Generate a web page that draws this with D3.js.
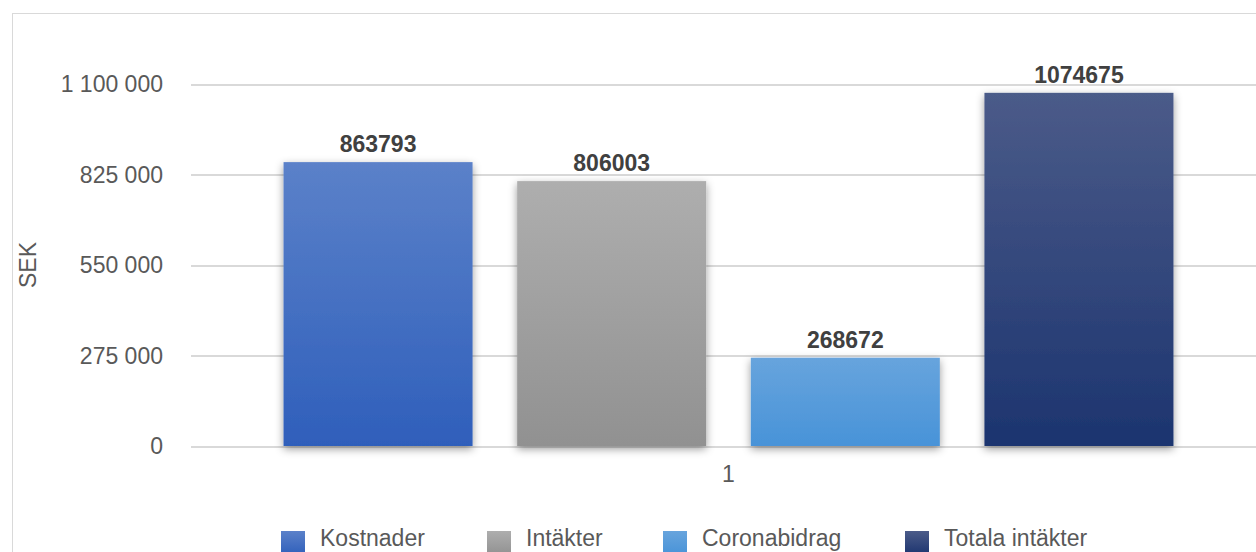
<!DOCTYPE html>
<html>
<head>
<meta charset="utf-8">
<script src="https://cdn.jsdelivr.net/npm/d3@7/dist/d3.min.js"></script>
<style>
  body { margin: 0; background: #fff; overflow: hidden; }
  svg { display: block; font-family: "Liberation Sans", Arial, sans-serif; }
</style>
</head>
<body>
<div id="chart"></div>
<script>
// chart data
var categories = ["1"];
var seriesNames = ["Kostnader", "Intäkter", "Coronabidrag", "Totala intäkter"];
var seriesValues = [863793, 806003, 268672, 1074675];
var yTicks = [0, 275000, 550000, 825000, 1100000];
var yTickLabels = ["0", "275 000", "550 000", "825 000", "1 100 000"];
var seriesColors = [
  ["#5b81c9", "#2f5fbb"],
  ["#aeaeae", "#919191"],
  ["#67a4dd", "#4893d8"],
  ["#4b5b89", "#1c346f"]
];

var W = 1256, H = 552;
var margin = { top: 84.5, right: -10, bottom: 106, left: 191 },
  width = W - margin.left - margin.right,
  height = H - margin.top - margin.bottom;

var svg = d3.select("#chart").append("svg")
  .attr("width", W)
  .attr("height", H);

var defs = svg.append("defs");
seriesColors.forEach(function (c, i) {
  var g = defs.append("linearGradient")
    .attr("id", "grad" + i)
    .attr("x1", 0).attr("y1", 0).attr("x2", 0).attr("y2", 1);
  g.append("stop").attr("offset", "0%").attr("stop-color", c[0]);
  g.append("stop").attr("offset", "100%").attr("stop-color", c[1]);
});
var f = defs.append("filter").attr("id", "shadow")
  .attr("x", "-20%").attr("y", "-10%").attr("width", "140%").attr("height", "130%");
f.append("feDropShadow")
  .attr("dx", 0).attr("dy", 3).attr("stdDeviation", 4)
  .attr("flood-color", "#000").attr("flood-opacity", 0.4);

// outer frame
svg.append("rect")
  .attr("x", 12.5).attr("y", 13.5)
  .attr("width", 1300).attr("height", 700)
  .attr("fill", "none").attr("stroke", "#d9d9d9");

var g = svg.append("g")
  .attr("transform", "translate(" + margin.left + "," + margin.top + ")");

var y = d3.scaleLinear().domain([0, 1100000]).range([height, 0]);
var x0 = d3.scaleBand().domain(categories).range([0, width]).paddingInner(0).paddingOuter(0.104);
var x1 = d3.scaleBand().domain(seriesNames).range([0, x0.bandwidth()]).paddingInner(0.191).paddingOuter(0);

// grid lines
g.append("g")
  .selectAll("line")
  .data(yTicks)
  .enter().append("line")
  .attr("x1", 0).attr("x2", width)
  .attr("y1", function (d) { return Math.round(y(d)) + 0.5; })
  .attr("y2", function (d) { return Math.round(y(d)) + 0.5; })
  .attr("stroke", "#d9d9d9").attr("stroke-width", 2);

// y axis labels
var yAxis = g.append("g")
  .call(d3.axisLeft(y).tickValues(yTicks).tickSize(0).tickPadding(28)
    .tickFormat(function (d, i) { return yTickLabels[i]; }));
yAxis.select(".domain").remove();
yAxis.selectAll("text")
  .attr("font-size", 23)
  .attr("fill", "#595959")
  .attr("font-family", "Liberation Sans, Arial, sans-serif");

// bars
var cat = g.selectAll(".cat")
  .data(categories)
  .enter().append("g")
  .attr("transform", function (d) { return "translate(" + x0(d) + ",0)"; });

cat.selectAll("rect")
  .data(seriesNames.map(function (n, i) { return { name: n, value: seriesValues[i], i: i }; }))
  .enter().append("rect")
  .attr("x", function (d) { return x1(d.name); })
  .attr("y", function (d) { return y(d.value); })
  .attr("width", x1.bandwidth())
  .attr("height", function (d) { return height - y(d.value); })
  .attr("fill", function (d) { return "url(#grad" + d.i + ")"; })
  .attr("filter", "url(#shadow)");

cat.selectAll(".val")
  .data(seriesNames.map(function (n, i) { return { name: n, value: seriesValues[i] }; }))
  .enter().append("text")
  .attr("class", "val")
  .attr("x", function (d) { return x1(d.name) + x1.bandwidth() / 2; })
  .attr("y", function (d) { return y(d.value) - 10; })
  .attr("text-anchor", "middle")
  .attr("font-size", 23)
  .attr("font-weight", "bold")
  .attr("fill", "#404040")
  .text(function (d) { return d.value; });

// x axis category label
var xAxis = g.append("g")
  .attr("transform", "translate(0," + height + ")")
  .call(d3.axisBottom(x0).tickSize(0));
xAxis.select(".domain").remove();
xAxis.selectAll("text")
  .attr("y", 36).attr("dy", 0)
  .attr("font-size", 23)
  .attr("fill", "#595959")
  .attr("font-family", "Liberation Sans, Arial, sans-serif");

// y axis title
svg.append("text")
  .attr("transform", "translate(36,265) rotate(-90)")
  .attr("text-anchor", "middle")
  .attr("font-size", 23)
  .attr("fill", "#595959")
  .text("SEK");

// legend
var legendX = [281, 487, 663, 905];
var legend = svg.selectAll(".legend")
  .data(seriesNames)
  .enter().append("g")
  .attr("transform", function (d, i) { return "translate(" + legendX[i] + ",531)"; });
legend.append("rect")
  .attr("width", 24).attr("height", 24)
  .attr("fill", function (d, i) { return "url(#grad" + i + ")"; });
legend.append("text")
  .attr("x", 39).attr("y", 15)
  .attr("font-size", 23)
  .attr("fill", "#595959")
  .text(function (d) { return d; });
</script>
</body>
</html>
